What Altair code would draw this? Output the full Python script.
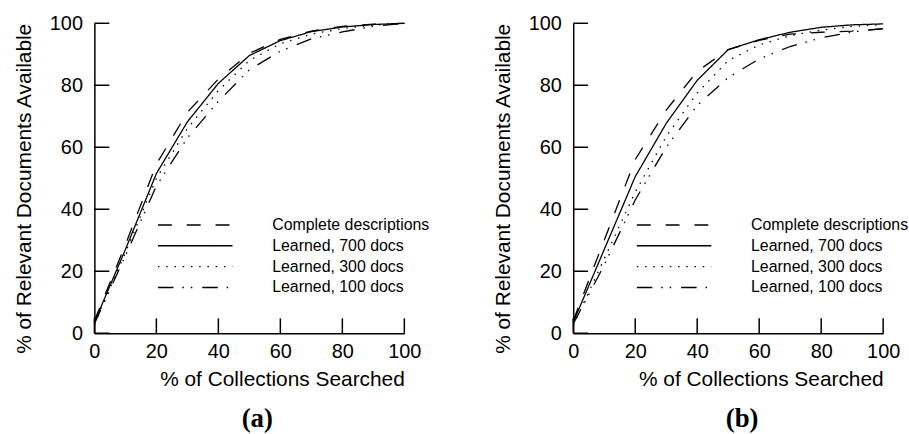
import altair as alt
import pandas as pd

x_vals = [0, 10, 20, 30, 40, 50, 60, 70, 80, 90, 100]
series = ["Complete descriptions", "Learned, 700 docs", "Learned, 300 docs", "Learned, 100 docs"]
ticks = [0, 20, 40, 60, 80, 100]

# panel (a)
a_complete = [4.0, 28.5, 54.5, 71.3, 82.0, 90.3, 94.8, 97.5, 99.0, 99.7, 100.0]
a_700 = [3.5, 27.0, 51.5, 68.2, 80.6, 89.6, 94.4, 97.3, 98.8, 99.6, 100.0]
a_300 = [3.0, 26.0, 50.0, 66.0, 78.3, 88.0, 93.4, 96.5, 98.3, 99.4, 100.0]
a_100 = [3.0, 25.0, 47.5, 63.0, 74.8, 85.0, 91.0, 95.0, 97.2, 99.0, 100.0]

# panel (b)
b_complete = [4.0, 30.0, 56.0, 72.0, 84.5, 91.5, 94.5, 96.5, 97.1, 97.5, 98.2]
b_700 = [3.5, 27.0, 50.5, 67.7, 81.6, 91.5, 94.7, 97.1, 98.7, 99.5, 99.8]
b_300 = [2.5, 24.0, 45.5, 63.5, 77.5, 88.0, 93.0, 96.0, 97.8, 99.0, 99.6]
b_100 = [3.0, 22.0, 43.0, 60.0, 73.5, 82.5, 88.5, 92.5, 95.3, 97.2, 98.3]

dash_patterns = [[14, 15], [1, 0], [1.5, 6.8], [15.6, 9, 1.5, 7, 1.5, 10]]

FONT = "Liberation Sans"
W = 312
H = 312
TICK = 15


def long_df(vals_list):
    rows = []
    for name, vals in zip(series, vals_list):
        for x, y in zip(x_vals, vals):
            rows.append({"x": x, "y": y, "series": name})
    return pd.DataFrame(rows)


xscale = alt.Scale(domain=[0, 100], nice=False, zero=True)
yscale = alt.Scale(domain=[0, 100], nice=False, zero=True)

x_axis = alt.Axis(values=ticks, title="% of Collections Searched", titleAnchor="end",
                  ticks=False, tickSize=0, grid=False, domainColor="black", domainWidth=1.5,
                  labelFont=FONT, labelFontSize=20, labelColor="black", labelPadding=8,
                  labelFlush=False, titleFont=FONT, titleFontSize=21, titleFontWeight="normal",
                  titleColor="black", titlePadding=8)
y_axis = alt.Axis(values=ticks, title="% of Relevant Documents Available", titleAnchor="end",
                  ticks=False, tickSize=0, grid=False, domainColor="black", domainWidth=1.5,
                  labelFont=FONT, labelFontSize=20, labelColor="black", labelPadding=12,
                  labelFlush=False, titleFont=FONT, titleFontSize=21, titleFontWeight="normal",
                  titleColor="black", titlePadding=15)


def panel(vals_list, caption, dx):
    df = long_df(vals_list)
    lines = alt.Chart(df).mark_line(color="black", strokeWidth=1.3).encode(
        x=alt.X("x:Q", scale=xscale, axis=x_axis),
        y=alt.Y("y:Q", scale=yscale, axis=y_axis),
        strokeDash=alt.StrokeDash(
            "series:N",
            scale=alt.Scale(domain=series, range=dash_patterns),
            legend=alt.Legend(orient="none", legendX=63, legendY=195, title=None,
                              symbolType="stroke", symbolSize=5625, symbolStrokeWidth=1.4,
                              symbolStrokeColor="black", clipHeight=16, rowPadding=5,
                              labelOffset=39, labelFont=FONT, labelFontSize=16,
                              labelColor="black", padding=0),
        ),
        order=alt.Order("x:Q"),
    )
    xt = alt.Chart(pd.DataFrame({"x": ticks})).mark_rule(color="black", strokeWidth=1.5).encode(
        x=alt.X("x:Q", scale=xscale, axis=x_axis),
        y=alt.value(H),
        y2=alt.value(H - TICK),
    )
    yt = alt.Chart(pd.DataFrame({"y": ticks})).mark_rule(color="black", strokeWidth=1.5).encode(
        y=alt.Y("y:Q", scale=yscale, axis=y_axis),
        x=alt.value(0),
        x2=alt.value(TICK),
    )
    return alt.layer(lines, xt, yt).properties(
        width=W, height=H,
        title=alt.TitleParams(caption, orient="bottom", anchor="middle", font="Liberation Serif",
                              fontSize=27, fontWeight="bold", color="black", dx=dx, offset=16),
    )


chart = alt.hconcat(
    panel([a_complete, a_700, a_300, a_100], "(a)", 8),
    panel([b_complete, b_700, b_300, b_100], "(b)", 14),
    spacing=62,
).resolve_scale(strokeDash="independent").resolve_legend(strokeDash="independent").properties(
    padding={"left": 13, "top": 12, "right": 0, "bottom": 0},
    background="white",
).configure_view(strokeWidth=0)

chart.save("out.html", embed_options={"renderer": "svg", "actions": False})
